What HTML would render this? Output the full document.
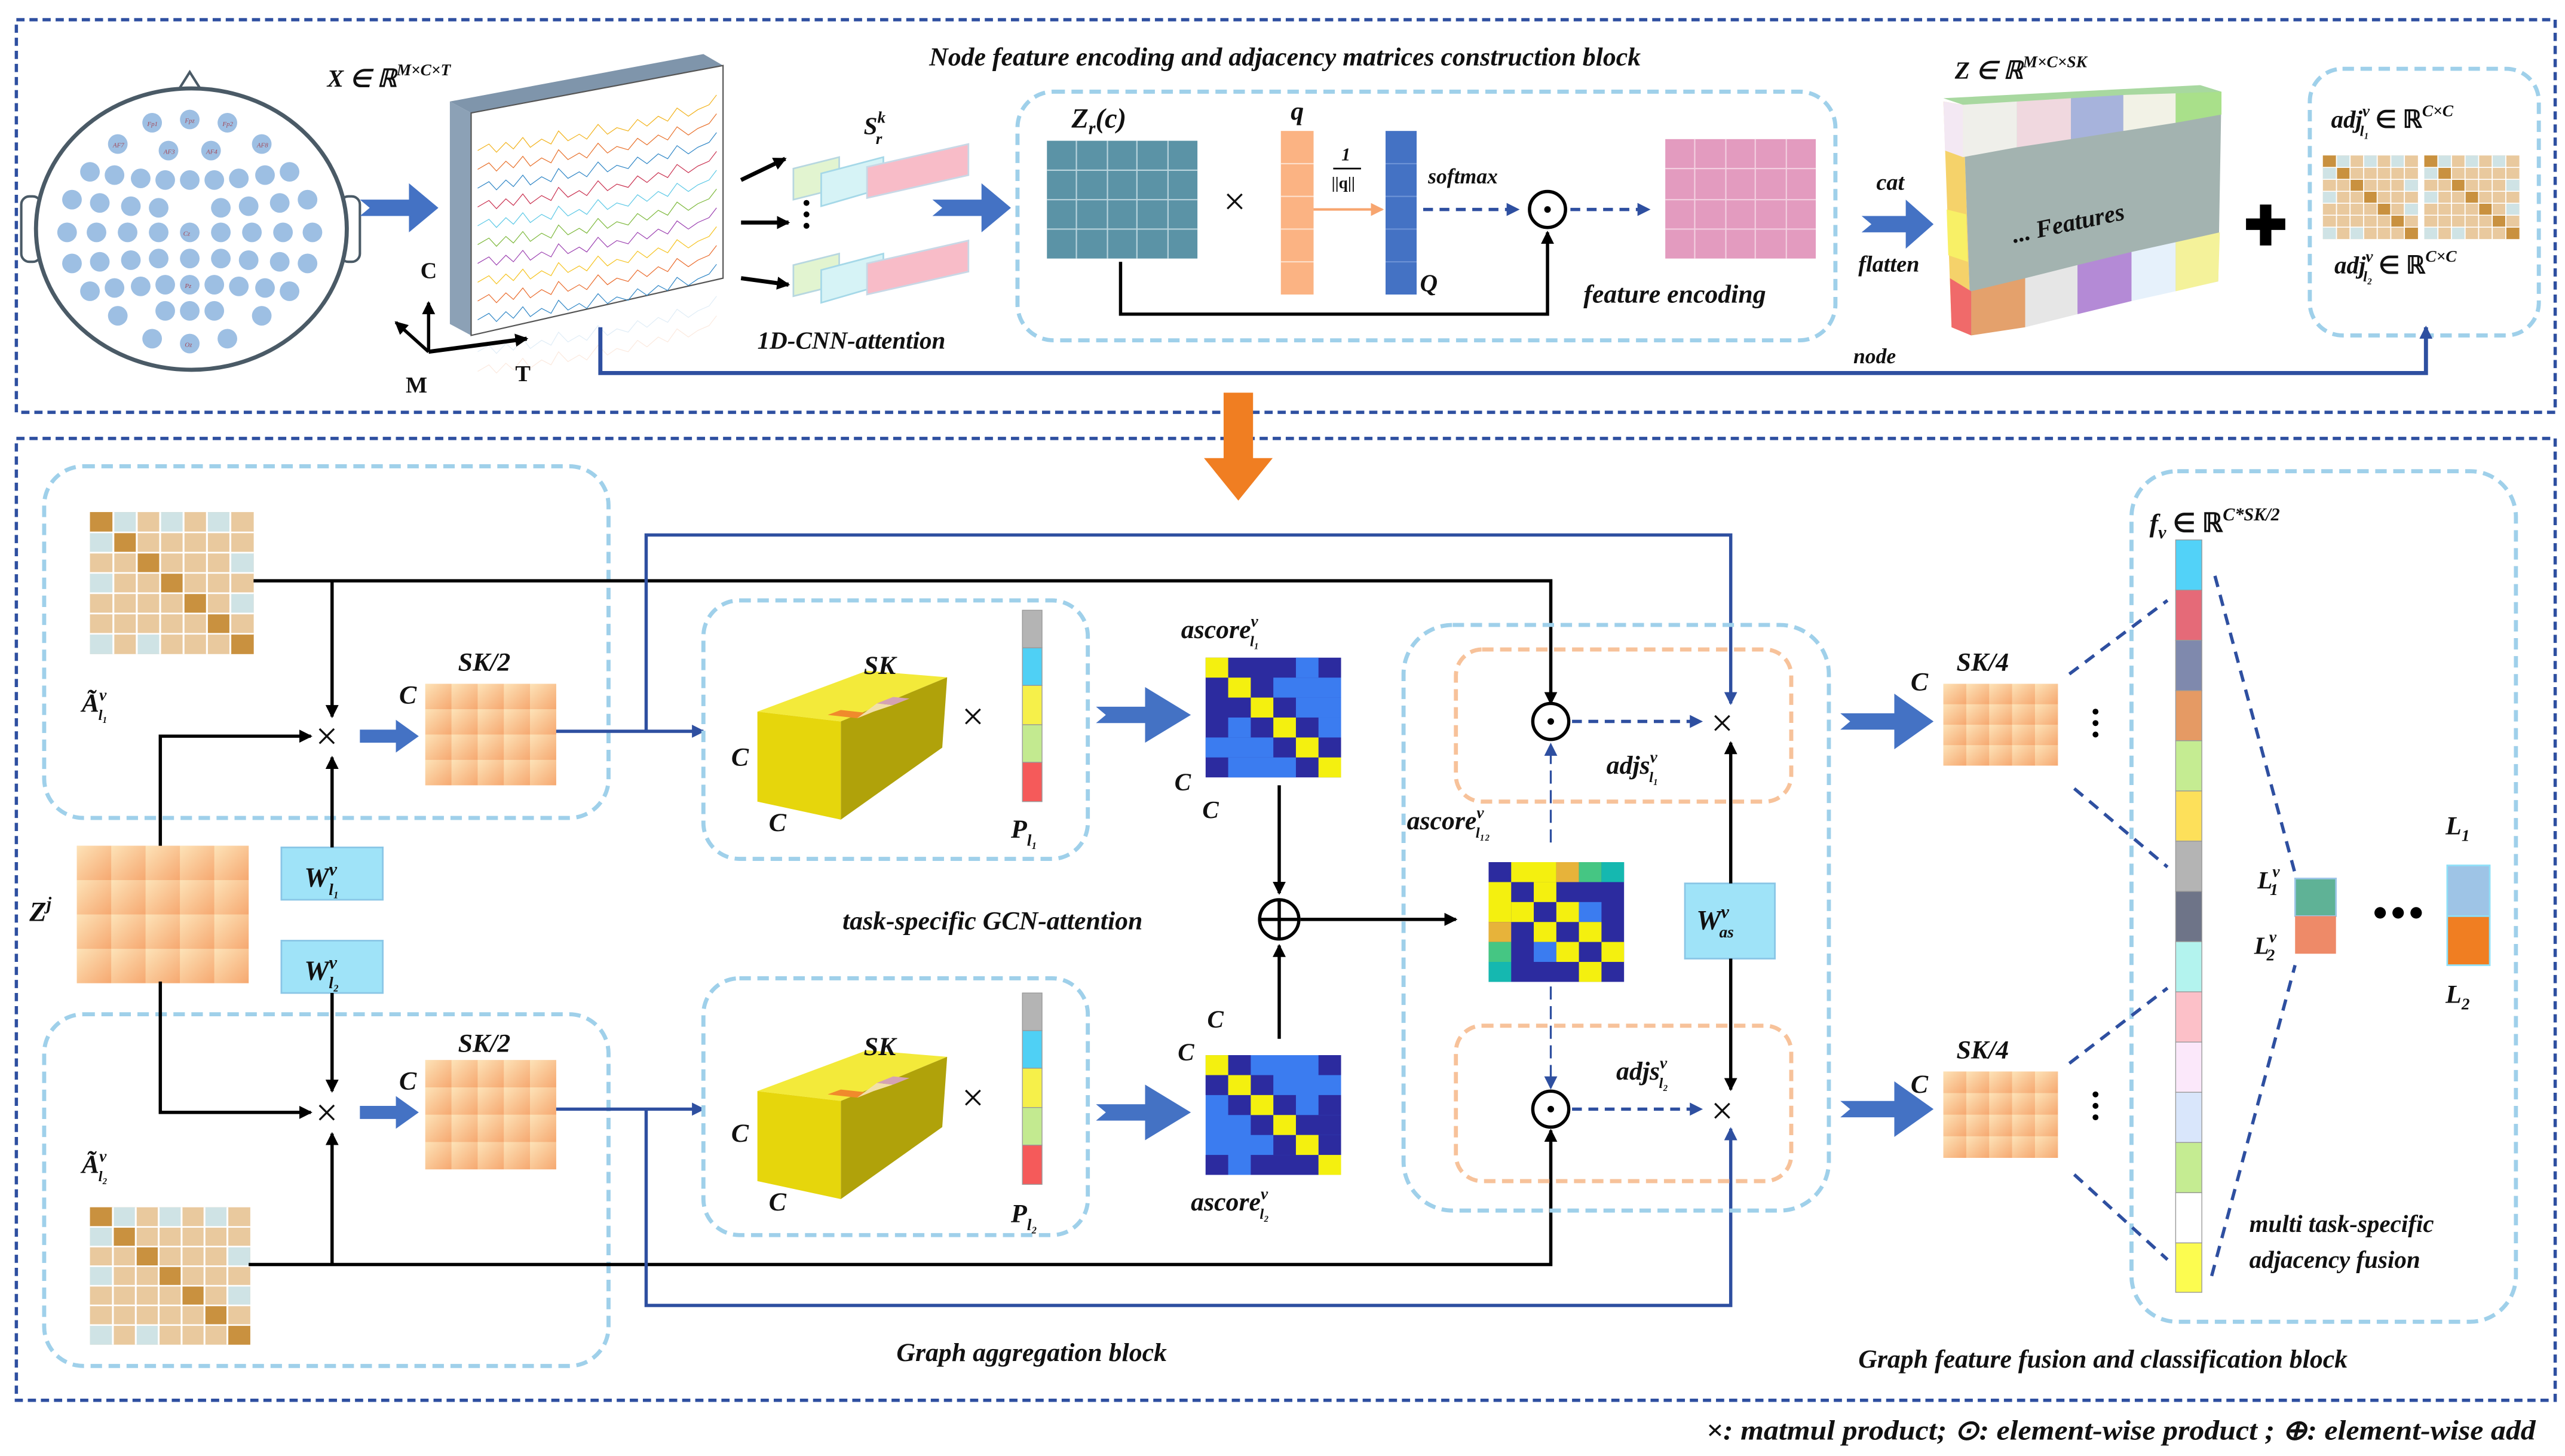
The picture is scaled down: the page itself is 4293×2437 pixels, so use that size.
<!DOCTYPE html>
<html><head><meta charset="utf-8">
<style>
html,body{margin:0;padding:0;background:#fff;}
svg{display:block;}
text{font-family:"Liberation Serif",serif;font-style:italic;font-weight:bold;fill:#111;}
.s{font-family:"Liberation Serif",serif;}
</style></head>
<body>
<svg width="4293" height="2437" viewBox="0 0 1568 890" xmlns="http://www.w3.org/2000/svg">
<defs>
<marker id="ak" markerWidth="8" markerHeight="8" refX="7" refY="4" orient="auto" markerUnits="userSpaceOnUse"><path d="M0,0 L8,4 L0,8 z" fill="#000"/></marker>
<marker id="ab" markerWidth="8" markerHeight="8" refX="7" refY="4" orient="auto" markerUnits="userSpaceOnUse"><path d="M0,0 L8,4 L0,8 z" fill="#2e4fa0"/></marker>
<marker id="ao" markerWidth="8" markerHeight="8" refX="7" refY="4" orient="auto" markerUnits="userSpaceOnUse"><path d="M0,0 L8,4 L0,8 z" fill="#f7a56f"/></marker>
<linearGradient id="pg" x1="0" y1="0" x2="1" y2="1"><stop offset="0" stop-color="#fde3b8"/><stop offset="1" stop-color="#f6a870"/></linearGradient>
<g id="pgrid">
  <rect x="0" y="0" width="5" height="4" fill="#f9c38f"/>
  <g fill="url(#pg)"><rect x="0" y="0" width="1" height="1"/><rect x="1" y="0" width="1" height="1"/><rect x="2" y="0" width="1" height="1"/><rect x="3" y="0" width="1" height="1"/><rect x="4" y="0" width="1" height="1"/>
  <rect x="0" y="1" width="1" height="1"/><rect x="1" y="1" width="1" height="1"/><rect x="2" y="1" width="1" height="1"/><rect x="3" y="1" width="1" height="1"/><rect x="4" y="1" width="1" height="1"/>
  <rect x="0" y="2" width="1" height="1"/><rect x="1" y="2" width="1" height="1"/><rect x="2" y="2" width="1" height="1"/><rect x="3" y="2" width="1" height="1"/><rect x="4" y="2" width="1" height="1"/>
  <rect x="0" y="3" width="1" height="1"/><rect x="1" y="3" width="1" height="1"/><rect x="2" y="3" width="1" height="1"/><rect x="3" y="3" width="1" height="1"/><rect x="4" y="3" width="1" height="1"/></g>
</g>
<g id="adj">
  <rect width="7" height="7" fill="#e9c99e"/>
  <g fill="#cfe3e5"><rect x="1" y="0" width="1" height="1"/><rect x="3" y="0" width="1" height="1"/><rect x="5" y="0" width="1" height="1"/><rect x="0" y="1" width="1" height="1"/><rect x="0" y="3" width="1" height="1"/><rect x="6" y="2" width="1" height="1"/><rect x="0" y="6" width="1" height="1"/><rect x="2" y="6" width="1" height="1"/><rect x="6" y="4" width="1" height="1"/></g>
  <g fill="#c9913f"><rect x="0" y="0" width="1" height="1"/><rect x="1" y="1" width="1" height="1"/><rect x="2" y="2" width="1" height="1"/><rect x="3" y="3" width="1" height="1"/><rect x="4" y="4" width="1" height="1"/><rect x="5" y="5" width="1" height="1"/><rect x="6" y="6" width="1" height="1"/></g>
  <path d="M1 0V7M2 0V7M3 0V7M4 0V7M5 0V7M6 0V7M0 1H7M0 2H7M0 3H7M0 4H7M0 5H7M0 6H7" stroke="#fff" stroke-width="0.08"/>
</g>
<g id="asc">
  <rect width="6" height="6" fill="#2c2b9f"/>
  <g fill="#3b7cf0"><rect x="4" y="0" width="1" height="1"/><rect x="3" y="1" width="3" height="1"/><rect x="4" y="2" width="2" height="1"/><rect x="1" y="3" width="1" height="1"/><rect x="5" y="3" width="1" height="1"/><rect x="0" y="4" width="3" height="1"/><rect x="1" y="5" width="3" height="1"/></g>
  <g fill="#f4f00f"><rect x="0" y="0" width="1" height="1"/><rect x="1" y="1" width="1" height="1"/><rect x="2" y="2" width="1" height="1"/><rect x="3" y="3" width="1" height="1"/><rect x="4" y="4" width="1" height="1"/><rect x="5" y="5" width="1" height="1"/></g>
</g>
<g id="asc2">
  <rect width="6" height="6" fill="#3b7cf0"/>
  <g fill="#2c2b9f"><rect x="1" y="0" width="1" height="1"/><rect x="5" y="0" width="1" height="1"/><rect x="0" y="1" width="1" height="1"/><rect x="2" y="1" width="1" height="1"/><rect x="1" y="2" width="1" height="1"/><rect x="3" y="2" width="1" height="1"/><rect x="5" y="2" width="1" height="1"/><rect x="2" y="3" width="1" height="1"/><rect x="4" y="3" width="2" height="1"/><rect x="3" y="4" width="1" height="1"/><rect x="5" y="4" width="1" height="1"/><rect x="0" y="5" width="1" height="1"/><rect x="2" y="5" width="3" height="1"/></g>
  <g fill="#f4f00f"><rect x="0" y="0" width="1" height="1"/><rect x="1" y="1" width="1" height="1"/><rect x="2" y="2" width="1" height="1"/><rect x="3" y="3" width="1" height="1"/><rect x="4" y="4" width="1" height="1"/><rect x="5" y="5" width="1" height="1"/></g>
</g>
<path id="wave" d="M0 0 l6 -4 l4 5 l5 -6 l4 4 l5 -7 l4 6 l6 -5 l5 3 l4 -8 l5 6 l6 -4 l4 3 l6 -9 l5 6 l5 -4 l6 2 l5 -7 l5 4 l6 -6 l5 3 l5 -8 l6 5 l5 -4 l6 -3 l4 -6" fill="none" stroke-width="1.2" vector-effect="non-scaling-stroke"/>
<g id="ybox">
  <polygon points="1,25 52,31 117,4 68,0" fill="#f3ea3a"/>
  <polygon points="52,31 117,4 114,47 52,91" fill="#b0a20a"/>
  <polygon points="1,25 52,31 52,91 1,80" fill="#e6d60c"/>
  <polygon points="44,27 62,29 70,26 52,24" fill="#f08a2c"/>
  <polygon points="62,29 72,25 84,21 74,20" fill="#f1e0a8"/>
  <polygon points="74,20 84,21 94,17 84,16" fill="#d4a3b3"/>
</g>
</defs>

<!-- outer boxes -->
<rect x="10" y="12" width="1552" height="240" fill="none" stroke="#2e4fa0" stroke-width="2" stroke-dasharray="5,3"/>
<rect x="10" y="268" width="1552" height="588" fill="none" stroke="#2e4fa0" stroke-width="2" stroke-dasharray="5,3"/>

<!-- head -->
<polygon points="116,44 104,63 128,63" fill="#fff" stroke="#4a5a66" stroke-width="1.5"/>
<rect x="13" y="120" width="12" height="40" rx="5" fill="#fff" stroke="#4a5a66" stroke-width="1.5"/>
<rect x="208" y="120" width="12" height="40" rx="5" fill="#fff" stroke="#4a5a66" stroke-width="1.5"/>
<ellipse cx="117" cy="140" rx="95" ry="86" fill="#fff" stroke="#4a5a66" stroke-width="2.5"/>
<g fill="#9dbfe3">
<circle cx="93" cy="75" r="6"/><circle cx="116" cy="73" r="6"/><circle cx="139" cy="75" r="6"/>
<circle cx="72" cy="88" r="6"/><circle cx="103" cy="92" r="6"/><circle cx="129" cy="92" r="6"/><circle cx="160" cy="88" r="6"/>
<circle cx="55" cy="105" r="6"/><circle cx="70" cy="107" r="6"/><circle cx="86" cy="109" r="6"/><circle cx="101" cy="110" r="6"/><circle cx="116" cy="110" r="6"/><circle cx="131" cy="110" r="6"/><circle cx="146" cy="109" r="6"/><circle cx="162" cy="107" r="6"/><circle cx="177" cy="105" r="6"/>
<circle cx="44" cy="122" r="6"/><circle cx="61" cy="124" r="6"/><circle cx="80" cy="126" r="6"/><circle cx="97" cy="127" r="6"/><circle cx="135" cy="127" r="6"/><circle cx="152" cy="126" r="6"/><circle cx="171" cy="124" r="6"/><circle cx="188" cy="122" r="6"/>
<circle cx="41" cy="142" r="6"/><circle cx="59" cy="142" r="6"/><circle cx="78" cy="142" r="6"/><circle cx="97" cy="142" r="6"/><circle cx="116" cy="142" r="6"/><circle cx="135" cy="142" r="6"/><circle cx="154" cy="142" r="6"/><circle cx="173" cy="142" r="6"/><circle cx="191" cy="142" r="6"/>
<circle cx="44" cy="161" r="6"/><circle cx="61" cy="160" r="6"/><circle cx="80" cy="159" r="6"/><circle cx="97" cy="158" r="6"/><circle cx="116" cy="158" r="6"/><circle cx="135" cy="158" r="6"/><circle cx="152" cy="159" r="6"/><circle cx="171" cy="160" r="6"/><circle cx="188" cy="161" r="6"/>
<circle cx="55" cy="178" r="6"/><circle cx="70" cy="176" r="6"/><circle cx="86" cy="175" r="6"/><circle cx="101" cy="174" r="6"/><circle cx="116" cy="174" r="6"/><circle cx="131" cy="174" r="6"/><circle cx="146" cy="175" r="6"/><circle cx="162" cy="176" r="6"/><circle cx="177" cy="178" r="6"/>
<circle cx="72" cy="193" r="6"/><circle cx="101" cy="190" r="6"/><circle cx="116" cy="190" r="6"/><circle cx="131" cy="190" r="6"/><circle cx="160" cy="193" r="6"/>
<circle cx="93" cy="207" r="6"/><circle cx="116" cy="210" r="6"/><circle cx="139" cy="207" r="6"/>
</g>
<g>
<text x="90" y="77" style="font-weight:normal;fill:#a14a5a;font-size:4px">Fp1</text><text x="113" y="75" style="font-weight:normal;fill:#a14a5a;font-size:4px">Fpz</text><text x="136" y="77" style="font-weight:normal;fill:#a14a5a;font-size:4px">Fp2</text>
<text x="69" y="90" style="font-weight:normal;fill:#a14a5a;font-size:4px">AF7</text><text x="100" y="94" style="font-weight:normal;fill:#a14a5a;font-size:4px">AF3</text><text x="126" y="94" style="font-weight:normal;fill:#a14a5a;font-size:4px">AF4</text><text x="157" y="90" style="font-weight:normal;fill:#a14a5a;font-size:4px">AF8</text>
<text x="112" y="144" style="font-weight:normal;fill:#a14a5a;font-size:4px">Cz</text><text x="113" y="176" style="font-weight:normal;fill:#a14a5a;font-size:4px">Pz</text><text x="113" y="212" style="font-weight:normal;fill:#a14a5a;font-size:4px">Oz</text>
</g>

<!-- blue arrow head->panel -->
<polygon points="220,122 250,122 250,112 268,127 250,142 250,132 220,132 226,127" fill="#4472c4"/>

<!-- EEG slab -->
<text x="200" y="53" font-size="15">X ∈ ℝ<tspan font-size="10" dy="-7">M×C×T</tspan></text>
<polygon points="275,62 430,33 442,40 288,69" fill="#7f95ab"/>
<polygon points="275,62 288,69 288,205 275,198" fill="#8ca1b6"/>
<polygon points="288,69 442,40 442,170 288,205" fill="#fff" stroke="#555" stroke-width="0.8"/>
<g transform="translate(292,92) scale(1.15,1)">
<use href="#wave" y="0" stroke="#f2b21a"/>
<use href="#wave" y="11.5" stroke="#e8702a"/>
<use href="#wave" y="23" stroke="#2f86c6"/>
<use href="#wave" y="34.5" stroke="#c9304f"/>
<use href="#wave" y="46" stroke="#5bc8e6"/>
<use href="#wave" y="57.5" stroke="#7cb83a"/>
<use href="#wave" y="69" stroke="#9b3fb0"/>
<use href="#wave" y="80.5" stroke="#f5c21c"/>
<use href="#wave" y="92" stroke="#ea6a2a"/>
<use href="#wave" y="103.5" stroke="#2f86c6"/>
</g>
<g opacity="0.15" transform="translate(292,215) scale(1.15,1)"><use href="#wave" stroke="#2f86c6"/><use href="#wave" y="12" stroke="#e8702a"/></g>
<line x1="262" y1="215" x2="262" y2="185" stroke="#000" stroke-width="2" marker-end="url(#ak)"/>
<line x1="262" y1="215" x2="242" y2="197" stroke="#000" stroke-width="2" marker-end="url(#ak)"/>
<line x1="262" y1="215" x2="322" y2="207" stroke="#000" stroke-width="2.5" marker-end="url(#ak)"/>
<text x="257" y="170" font-size="14" style="font-style:normal">C</text>
<text x="248" y="240" font-size="14" style="font-style:normal">M</text>
<text x="315" y="233" font-size="14" style="font-style:normal">T</text>

<!-- 1D CNN -->
<line x1="453" y1="110" x2="480" y2="97" stroke="#000" stroke-width="2.5" marker-end="url(#ak)"/>
<line x1="453" y1="136" x2="482" y2="136" stroke="#000" stroke-width="2.5" marker-end="url(#ak)"/>
<line x1="453" y1="170" x2="482" y2="174" stroke="#000" stroke-width="2.5" marker-end="url(#ak)"/>
<circle cx="493" cy="124" r="1.8"/><circle cx="493" cy="131" r="1.8"/><circle cx="493" cy="138" r="1.8"/>
<text x="528" y="82" font-size="15">S<tspan font-size="10" dy="-7">k</tspan><tspan font-size="10" dx="-6" dy="13">r</tspan></text>
<g>
<polygon points="485,103 513,96 513,115 485,122" fill="#e2f4d0" stroke="#b7d7e0"/>
<polygon points="502,106 540,96 540,115 502,126" fill="#d6f3f6" stroke="#a5d8e8"/>
<polygon points="530,102 592,88 592,107 530,121" fill="#f8bcc8" stroke="#c8d8e6"/>
<polygon points="485,162 513,155 513,174 485,181" fill="#e2f4d0" stroke="#b7d7e0"/>
<polygon points="502,165 540,155 540,174 502,185" fill="#d6f3f6" stroke="#a5d8e8"/>
<polygon points="530,161 592,147 592,166 530,180" fill="#f8bcc8" stroke="#c8d8e6"/>
</g>
<polygon points="570,122 600,122 600,112 618,127 600,142 600,132 570,132 576,127" fill="#4472c4"/>
<text x="463" y="213" font-size="15">1D-CNN-attention</text>
<text x="568" y="40" font-size="16">Node feature encoding and adjacency matrices construction block</text>

<!-- feature encoding box -->
<rect x="622" y="56" width="500" height="152" rx="22" fill="none" stroke="#9fd0ea" stroke-width="2.5" stroke-dasharray="7,4"/>
<text x="655" y="78" font-size="17">Z<tspan font-size="11" dy="4">r</tspan><tspan dy="-4">(c)</tspan></text>
<rect x="640" y="86" width="92" height="72" fill="#5b93a6"/>
<path d="M658 86V158M677 86V158M695 86V158M714 86V158M640 104H732M640 122H732M640 140H732" stroke="#b8d3dc" stroke-width="0.8"/>
<text x="748" y="131" font-size="24" class="s" style="font-style:normal;font-weight:normal">×</text>
<text x="789" y="73" font-size="16">q</text>
<rect x="783" y="80" width="20" height="100" fill="#fbb383"/>
<path d="M783 100H803M783 120H803M783 140H803M783 160H803" stroke="#fde0cc" stroke-width="0.8"/>
<text x="820" y="98" font-size="11">1</text>
<line x1="815" y1="103" x2="832" y2="103" stroke="#000" stroke-width="1"/>
<text x="814" y="115" font-size="10" style="font-style:normal">||q||</text>
<line x1="803" y1="128" x2="845" y2="128" stroke="#f7a56f" stroke-width="1.5" marker-end="url(#ao)"/>
<rect x="847" y="80" width="19" height="100" fill="#4472c4"/>
<path d="M847 100H866M847 120H866M847 140H866M847 160H866" stroke="#6d93d6" stroke-width="0.8"/>
<text x="868" y="178" font-size="15">Q</text>
<text x="873" y="112" font-size="13">softmax</text>
<line x1="870" y1="128" x2="928" y2="128" stroke="#2e4fa0" stroke-width="2" stroke-dasharray="6,4" marker-end="url(#ab)"/>
<circle cx="946" cy="128" r="11" fill="none" stroke="#000" stroke-width="2"/><circle cx="946" cy="128" r="2" fill="#000"/>
<line x1="960" y1="128" x2="1008" y2="128" stroke="#2e4fa0" stroke-width="2" stroke-dasharray="6,4" marker-end="url(#ab)"/>
<rect x="1018" y="85" width="92" height="73" fill="#e39bbf"/>
<path d="M1036 85V158M1055 85V158M1073 85V158M1092 85V158M1018 103H1110M1018 122H1110M1018 140H1110" stroke="#f3cfe0" stroke-width="0.8"/>
<text x="968" y="185" font-size="16">feature encoding</text>
<polyline points="685,160 685,192 946,192 946,142" fill="none" stroke="#000" stroke-width="2" marker-end="url(#ak)"/>

<!-- cat/flatten -->
<text x="1147" y="116" font-size="14">cat</text>
<text x="1136" y="166" font-size="14">flatten</text>
<polygon points="1138,132 1165,132 1165,122 1182,137 1165,152 1165,142 1138,142 1144,137" fill="#4472c4"/>
<text x="1195" y="48" font-size="15">Z ∈ ℝ<tspan font-size="10" dy="-7">M×C×SK</tspan></text>
<!-- Z block -->
<polygon points="1188,60 1345,52 1358,56 1200,64" fill="#a8d8a0"/>
<polygon points="1188,62 1200,64 1205,205 1193,200" fill="#f5d26a"/>
<polygon points="1200,64 1358,56 1356,172 1205,205" fill="#a3b3b0"/>
<g>
<polygon points="1200,64 1233,62 1233,90 1200,96" fill="#efefea"/>
<polygon points="1233,62 1266,60 1266,85 1233,90" fill="#f0d8df"/>
<polygon points="1266,60 1298,58 1298,80 1266,85" fill="#a7b3dc"/>
<polygon points="1298,58 1330,57 1330,75 1298,80" fill="#f2f2e6"/>
<polygon points="1330,57 1358,56 1358,70 1330,75" fill="#a9e08a"/>
<polygon points="1205,178 1238,170 1238,200 1205,205" fill="#e4a16c"/>
<polygon points="1238,170 1270,162 1270,192 1238,200" fill="#e6e6e6"/>
<polygon points="1270,162 1303,154 1303,184 1270,192" fill="#b48ad6"/>
<polygon points="1303,154 1330,148 1330,178 1303,184" fill="#e6f1fb"/>
<polygon points="1330,148 1357,142 1356,172 1330,178" fill="#f4f29a"/>
<polygon points="1188,62 1200,64 1200,96 1189,92" fill="#f3e8f3"/>
<polygon points="1192,170 1205,178 1205,205 1193,200" fill="#f06a6a"/>
<polygon points="1190,128 1202,131 1203,160 1191,156" fill="#f8f066"/>
</g>
<text x="1228" y="140" font-size="15" transform="rotate(-12 1270 130)">... Features</text>
<path d="M1385 125V150M1373 137H1397" stroke="#000" stroke-width="7"/>
<!-- adj box -->
<rect x="1412" y="42" width="140" height="163" rx="20" fill="none" stroke="#9fd0ea" stroke-width="2.5" stroke-dasharray="7,4"/>
<text x="1425" y="78" font-size="15">adj<tspan font-size="10" dy="-7">v</tspan><tspan font-size="9" dx="-6" dy="12">l₁</tspan><tspan dy="-5" style="font-style:normal"> ∈ ℝ</tspan><tspan font-size="10" dy="-7">C×C</tspan></text>
<use href="#adj" transform="translate(1420,95) scale(8.3,7.3)"/>
<use href="#adj" transform="translate(1482,95) scale(8.3,7.3)"/>
<text x="1427" y="167" font-size="15">adj<tspan font-size="10" dy="-7">v</tspan><tspan font-size="9" dx="-6" dy="12">l₂</tspan><tspan dy="-5" style="font-style:normal"> ∈ ℝ</tspan><tspan font-size="10" dy="-7">C×C</tspan></text>
<polyline points="367,200 367,228 1483,228 1483,200" fill="none" stroke="#2e4fa0" stroke-width="2.5" marker-end="url(#ab)"/>
<text x="1133" y="222" font-size="13">node</text>

<!-- orange down arrow -->
<polygon points="748,240 766,240 766,280 778,280 757,306 736,280 748,280" fill="#f07e22"/>

<!-- ===== bottom ===== -->
<rect x="27" y="285" width="345" height="215" rx="24" fill="none" stroke="#9fd0ea" stroke-width="2.5" stroke-dasharray="7,4"/>
<rect x="27" y="620" width="345" height="215" rx="24" fill="none" stroke="#9fd0ea" stroke-width="2.5" stroke-dasharray="7,4"/>
<use href="#adj" transform="translate(55,313) scale(14.3,12.4)"/>
<use href="#adj" transform="translate(55,738) scale(14,12)"/>
<text x="50" y="435" font-size="16">Ã<tspan font-size="10" dy="-7">v</tspan><tspan font-size="9" dx="-5" dy="12">l₁</tspan></text>
<text x="50" y="717" font-size="16">Ã<tspan font-size="10" dy="-7">v</tspan><tspan font-size="9" dx="-5" dy="12">l₂</tspan></text>
<use href="#pgrid" transform="translate(47,517) scale(21,21)"/>
<text x="18" y="563" font-size="17">Z<tspan font-size="11" dy="-7">j</tspan></text>
<rect x="172" y="518" width="62" height="32" fill="#9fe3f8" stroke="#8ac6e6"/>
<text x="186" y="542" font-size="17">W<tspan font-size="11" dy="-7">v</tspan><tspan font-size="10" dx="-5" dy="12">l₁</tspan></text>
<rect x="172" y="575" width="62" height="32" fill="#9fe3f8" stroke="#8ac6e6"/>
<text x="186" y="599" font-size="17">W<tspan font-size="11" dy="-7">v</tspan><tspan font-size="10" dx="-5" dy="12">l₂</tspan></text>
<g stroke="#000" stroke-width="2" fill="none">
<polyline points="155,355 948,355 948,430" marker-end="url(#ak)"/>
<line x1="203" y1="355" x2="203" y2="438" marker-end="url(#ak)"/>
<polyline points="98,517 98,450 190,450" marker-end="url(#ak)"/>
<polyline points="98,600 98,680 190,680" marker-end="url(#ak)"/>
<line x1="203" y1="518" x2="203" y2="463" marker-end="url(#ak)"/>
<line x1="203" y1="607" x2="203" y2="667" marker-end="url(#ak)"/>
<polyline points="152,773 948,773 948,691" marker-end="url(#ak)"/>
<line x1="203" y1="773" x2="203" y2="693" marker-end="url(#ak)"/>
</g>
<text x="193" y="458" font-size="24" class="s" style="font-style:normal;font-weight:normal">×</text>
<text x="193" y="688" font-size="24" class="s" style="font-style:normal;font-weight:normal">×</text>
<polygon points="220,446 242,446 242,440 256,450 242,460 242,454 220,454" fill="#4472c4"/>
<polygon points="220,676 242,676 242,670 256,680 242,690 242,684 220,684" fill="#4472c4"/>
<use href="#pgrid" transform="translate(260,418) scale(16,15.5)"/>
<use href="#pgrid" transform="translate(260,648) scale(16,16.7)"/>
<text x="280" y="410" font-size="16">SK/2</text><text x="244" y="430" font-size="16">C</text>
<text x="280" y="643" font-size="16">SK/2</text><text x="244" y="666" font-size="16">C</text>
<g stroke="#2e4fa0" stroke-width="2" fill="none">
<line x1="340" y1="447" x2="430" y2="447" marker-end="url(#ab)"/>
<polyline points="395,447 395,327 1058,327 1058,430" marker-end="url(#ab)"/>
<line x1="340" y1="678" x2="430" y2="678" marker-end="url(#ab)"/>
<polyline points="395,678 395,798 1058,798 1058,690" marker-end="url(#ab)"/>
</g>
<!-- GCN boxes -->
<rect x="430" y="367" width="235" height="158" rx="22" fill="none" stroke="#9fd0ea" stroke-width="2.5" stroke-dasharray="7,4"/>
<rect x="430" y="598" width="235" height="157" rx="22" fill="none" stroke="#9fd0ea" stroke-width="2.5" stroke-dasharray="7,4"/>
<use href="#ybox" transform="translate(462,410)"/>
<use href="#ybox" transform="translate(462,642)"/>
<text x="528" y="412" font-size="16">SK</text><text x="447" y="468" font-size="16">C</text><text x="470" y="508" font-size="16">C</text>
<text x="528" y="645" font-size="16">SK</text><text x="447" y="698" font-size="16">C</text><text x="470" y="740" font-size="16">C</text>
<text x="588" y="446" font-size="24" class="s" style="font-style:normal;font-weight:normal">×</text>
<text x="588" y="679" font-size="24" class="s" style="font-style:normal;font-weight:normal">×</text>
<g stroke="#999" stroke-width="0.5">
<rect x="625" y="373" width="12" height="23" fill="#b4b4b4"/><rect x="625" y="396" width="12" height="23" fill="#4fd0f5"/><rect x="625" y="419" width="12" height="24" fill="#f6f04a"/><rect x="625" y="443" width="12" height="23" fill="#c3ea90"/><rect x="625" y="466" width="12" height="24" fill="#f55a5a"/>
<rect x="625" y="607" width="12" height="23" fill="#b4b4b4"/><rect x="625" y="630" width="12" height="23" fill="#4fd0f5"/><rect x="625" y="653" width="12" height="24" fill="#f6f04a"/><rect x="625" y="677" width="12" height="23" fill="#c3ea90"/><rect x="625" y="700" width="12" height="24" fill="#f55a5a"/>
</g>
<text x="618" y="512" font-size="16">P<tspan font-size="10" dy="5">l₁</tspan></text>
<text x="618" y="747" font-size="16">P<tspan font-size="10" dy="5">l₂</tspan></text>
<polygon points="670,432 700,432 700,420 728,437 700,454 700,442 670,442 676,437" fill="#4472c4"/>
<polygon points="670,675 700,675 700,663 728,680 700,697 700,685 670,685 676,680" fill="#4472c4"/>
<use href="#asc" transform="translate(737,402) scale(13.8,12.2)"/>
<use href="#asc2" transform="translate(737,645) scale(13.8,12.2)"/>
<text x="722" y="390" font-size="16">ascore<tspan font-size="10" dy="-7">v</tspan><tspan font-size="9" dx="-5" dy="12">l₁</tspan></text>
<text x="728" y="740" font-size="16">ascore<tspan font-size="10" dy="-7">v</tspan><tspan font-size="9" dx="-5" dy="12">l₂</tspan></text>
<text x="718" y="483" font-size="15">C</text><text x="735" y="500" font-size="15">C</text>
<text x="738" y="628" font-size="15">C</text><text x="720" y="648" font-size="15">C</text>
<g stroke="#000" stroke-width="2" fill="none">
<line x1="782" y1="480" x2="782" y2="546" marker-end="url(#ak)"/>
<line x1="782" y1="635" x2="782" y2="578" marker-end="url(#ak)"/>
<line x1="795" y1="562" x2="890" y2="562" marker-end="url(#ak)"/>
</g>
<circle cx="782" cy="562" r="12" fill="#fff" stroke="#000" stroke-width="2"/>
<path d="M770 562H794M782 550V574" stroke="#000" stroke-width="2"/>
<text x="515" y="568" font-size="16">task-specific GCN-attention</text>
<!-- middle box -->
<rect x="858" y="382" width="260" height="358" rx="30" fill="none" stroke="#9fd0ea" stroke-width="2.5" stroke-dasharray="7,4"/>
<rect x="890" y="397" width="205" height="93" rx="16" fill="none" stroke="#f7c29a" stroke-width="2.5" stroke-dasharray="7,4"/>
<rect x="890" y="627" width="205" height="95" rx="16" fill="none" stroke="#f7c29a" stroke-width="2.5" stroke-dasharray="7,4"/>
<circle cx="948" cy="441" r="11" fill="#fff" stroke="#000" stroke-width="2"/><circle cx="948" cy="441" r="2"/>
<circle cx="948" cy="678" r="11" fill="#fff" stroke="#000" stroke-width="2"/><circle cx="948" cy="678" r="2"/>
<text x="1046" y="450" font-size="24" class="s" style="font-style:normal;font-weight:normal">×</text>
<text x="1046" y="687" font-size="24" class="s" style="font-style:normal;font-weight:normal">×</text>
<g stroke="#2e4fa0" stroke-width="2" fill="none" stroke-dasharray="6,4">
<line x1="961" y1="441" x2="1040" y2="441" marker-end="url(#ab)"/>
<line x1="961" y1="678" x2="1040" y2="678" marker-end="url(#ab)"/>
</g>
<g stroke="#2e4fa0" stroke-width="1.2" fill="none" stroke-dasharray="8,4">
<line x1="948" y1="515" x2="948" y2="455" marker-end="url(#ab)"/>
<line x1="948" y1="603" x2="948" y2="665" marker-end="url(#ab)"/>
</g>
<text x="982" y="473" font-size="16">adjs<tspan font-size="10" dy="-7">v</tspan><tspan font-size="9" dx="-5" dy="12">l₁</tspan></text>
<text x="988" y="660" font-size="16">adjs<tspan font-size="10" dy="-7">v</tspan><tspan font-size="9" dx="-5" dy="12">l₂</tspan></text>
<text x="860" y="507" font-size="16">ascore<tspan font-size="10" dy="-7">v</tspan><tspan font-size="9" dx="-5" dy="12">l₁₂</tspan></text>
<g transform="translate(910,527) scale(13.8,12.2)">
<rect width="6" height="6" fill="#2c2b9f"/>
<rect x="1" y="0" width="2" height="1" fill="#f4f00f"/><rect x="3" y="0" width="1" height="1" fill="#e7b33a"/><rect x="4" y="0" width="1" height="1" fill="#45c683"/><rect x="5" y="0" width="1" height="1" fill="#15b8b0"/>
<rect x="0" y="1" width="1" height="2" fill="#f4f00f"/><rect x="2" y="1" width="1" height="1" fill="#f4f00f"/><rect x="1" y="2" width="1" height="1" fill="#f4f00f"/><rect x="3" y="2" width="1" height="1" fill="#f4f00f"/><rect x="4" y="2" width="1" height="1" fill="#3b7cf0"/>
<rect x="0" y="3" width="1" height="1" fill="#e7b33a"/><rect x="2" y="3" width="1" height="1" fill="#f4f00f"/><rect x="4" y="3" width="1" height="1" fill="#f4f00f"/>
<rect x="0" y="4" width="1" height="1" fill="#45c683"/><rect x="2" y="4" width="1" height="1" fill="#3b7cf0"/><rect x="3" y="4" width="1" height="1" fill="#f4f00f"/><rect x="5" y="4" width="1" height="1" fill="#f4f00f"/>
<rect x="0" y="5" width="1" height="1" fill="#15b8b0"/><rect x="4" y="5" width="1" height="1" fill="#f4f00f"/>
</g>
<rect x="1030" y="540" width="55" height="46" fill="#9fe3f8" stroke="#8ac6e6"/>
<text x="1037" y="568" font-size="17">W<tspan font-size="11" dy="-7">v</tspan><tspan font-size="10" dx="-6" dy="12">as</tspan></text>
<g stroke="#000" stroke-width="2" fill="none">
<line x1="1058" y1="540" x2="1058" y2="454" marker-end="url(#ak)"/>
<line x1="1058" y1="586" x2="1058" y2="666" marker-end="url(#ak)"/>
</g>
<polygon points="1125,436 1158,436 1158,424 1182,441 1158,458 1158,446 1125,446 1131,441" fill="#4472c4"/>
<polygon points="1125,673 1158,673 1158,661 1182,678 1158,695 1158,683 1125,683 1131,678" fill="#4472c4"/>
<use href="#pgrid" transform="translate(1188,418) scale(14,12.5)"/>
<use href="#pgrid" transform="translate(1188,655) scale(14,13.2)"/>
<text x="1196" y="410" font-size="16">SK/4</text><text x="1168" y="422" font-size="16">C</text>
<text x="1196" y="647" font-size="16">SK/4</text><text x="1168" y="668" font-size="16">C</text>
<circle cx="1281" cy="435" r="1.8"/><circle cx="1281" cy="442" r="1.8"/><circle cx="1281" cy="449" r="1.8"/>
<circle cx="1281" cy="669" r="1.8"/><circle cx="1281" cy="676" r="1.8"/><circle cx="1281" cy="683" r="1.8"/>
<!-- right box -->
<rect x="1303" y="288" width="235" height="520" rx="28" fill="none" stroke="#9fd0ea" stroke-width="2.5" stroke-dasharray="7,4"/>
<text x="1314" y="325" font-size="16">f<tspan font-size="11" dy="4">v</tspan><tspan dy="-4" style="font-style:normal"> ∈ ℝ</tspan><tspan font-size="11" dy="-7">C*SK/2</tspan></text>
<g stroke="#999" stroke-width="0.5">
<rect x="1330" y="330" width="16" height="30.7" fill="#52d2f8"/>
<rect x="1330" y="360.7" width="16" height="30.7" fill="#e56a78"/>
<rect x="1330" y="391.4" width="16" height="30.7" fill="#7f89ad"/>
<rect x="1330" y="422.1" width="16" height="30.7" fill="#e59a64"/>
<rect x="1330" y="452.8" width="16" height="30.7" fill="#c5ec92"/>
<rect x="1330" y="483.5" width="16" height="30.7" fill="#fde05a"/>
<rect x="1330" y="514.2" width="16" height="30.7" fill="#b4b4b4"/>
<rect x="1330" y="544.9" width="16" height="30.7" fill="#6e7488"/>
<rect x="1330" y="575.6" width="16" height="30.7" fill="#b3f3ee"/>
<rect x="1330" y="606.3" width="16" height="30.7" fill="#fcc0c8"/>
<rect x="1330" y="637" width="16" height="30.7" fill="#fbe8fa"/>
<rect x="1330" y="667.7" width="16" height="30.7" fill="#d9e6fb"/>
<rect x="1330" y="698.4" width="16" height="30.7" fill="#c5ec92"/>
<rect x="1330" y="729.1" width="16" height="30.7" fill="#fff"/>
<rect x="1330" y="759.8" width="16" height="30.2" fill="#fcfc50"/>
</g>
<g stroke="#2e4fa0" stroke-width="2" stroke-dasharray="7,5" fill="none">
<line x1="1265" y1="412" x2="1325" y2="367"/>
<line x1="1268" y1="482" x2="1325" y2="530"/>
<line x1="1265" y1="650" x2="1325" y2="604"/>
<line x1="1268" y1="718" x2="1325" y2="770"/>
<line x1="1354" y1="352" x2="1403" y2="534"/>
<line x1="1352" y1="780" x2="1403" y2="590"/>
</g>
<rect x="1403" y="537" width="25" height="23" fill="#5fb296" stroke="#9ec6e8"/>
<rect x="1403" y="560" width="25" height="23" fill="#ee8a68"/>
<text x="1380" y="543" font-size="15">L<tspan font-size="10" dy="-7">v</tspan><tspan font-size="10" dx="-6" dy="11">1</tspan></text>
<text x="1378" y="583" font-size="15">L<tspan font-size="10" dy="-7">v</tspan><tspan font-size="10" dx="-6" dy="11">2</tspan></text>
<circle cx="1455" cy="558" r="3.5"/><circle cx="1466" cy="558" r="3.5"/><circle cx="1477" cy="558" r="3.5"/>
<rect x="1496" y="529" width="26" height="31" fill="#9ec4e6" stroke="#8fe0f8"/>
<rect x="1496" y="560" width="26" height="30" fill="#f07e22" stroke="#8fe0f8"/>
<text x="1495" y="510" font-size="16">L<tspan font-size="10" dy="4">1</tspan></text>
<text x="1495" y="613" font-size="16">L<tspan font-size="10" dy="4">2</tspan></text>
<text x="1375" y="753" font-size="15">multi task-specific</text>
<text x="1375" y="775" font-size="15">adjacency fusion</text>

<text x="548" y="832" font-size="16">Graph aggregation block</text>
<text x="1136" y="836" font-size="16">Graph feature fusion and classification block</text>
<text x="1043" y="880" font-size="17" textLength="507" lengthAdjust="spacingAndGlyphs">×: matmul product; ⊙: element-wise product ; ⊕: element-wise add</text>
</svg>
</body></html>
